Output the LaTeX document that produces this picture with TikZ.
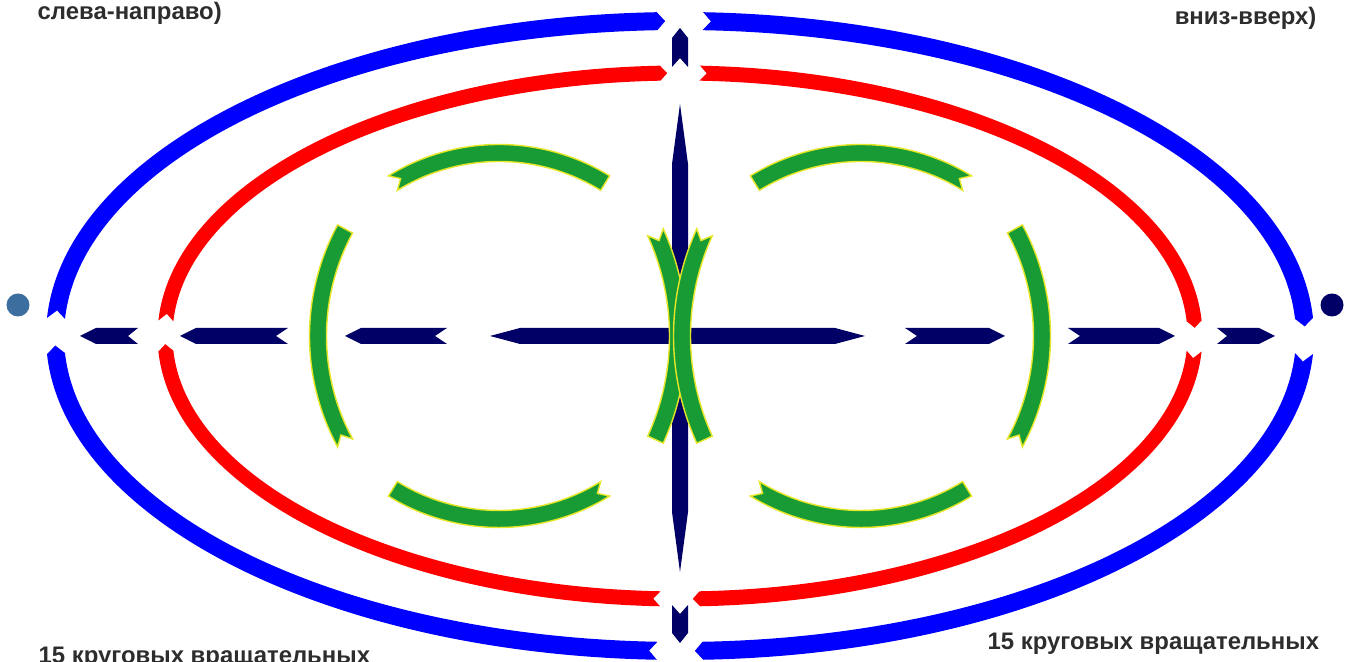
\documentclass[tikz,border=0pt]{standalone}
\usepackage{fontspec}
\setmainfont{Liberation Sans}
\usepackage{tikz}
\usetikzlibrary{calc}

\definecolor{ringblue}{RGB}{0,0,255}
\definecolor{ringred}{RGB}{255,0,0}
\definecolor{axisnavy}{RGB}{0,0,102}
\definecolor{leafgreen}{RGB}{24,154,52}
\definecolor{leafedge}{RGB}{230,230,40}
\definecolor{dotsteel}{RGB}{61,110,160}
\definecolor{captiongray}{RGB}{45,45,45}

% band along an ellipse: style, centre, rx, ry, tail angle, head angle, half width, head depth, notch depth
\newcommand{\chevband}[9]{%
  \pgfmathsetmacro\bsgn{ifthenelse(#6>#5,1,-1)}%
  \pgfmathsetmacro\bdh{\bsgn*#8/sqrt((#3*sin(#6))^2+(#4*cos(#6))^2)*180/pi}%
  \pgfmathsetmacro\bdt{\bsgn*#9/sqrt((#3*sin(#5))^2+(#4*cos(#5))^2)*180/pi}%
  \pgfmathsetmacro\brxo{#3+#7}\pgfmathsetmacro\bryo{#4+#7}%
  \pgfmathsetmacro\brxi{#3-#7}\pgfmathsetmacro\bryi{#4-#7}%
  \pgfmathsetmacro\btip{#6+\bdh}\pgfmathsetmacro\bnotch{#5+\bdt}%
  \fill[#1] ($(#2)+(#5:\brxo cm and \bryo cm)$)
      arc[start angle=#5, end angle=#6, x radius=\brxo, y radius=\bryo]
    -- ($(#2)+(\btip:#3 cm and #4 cm)$)
    -- ($(#2)+(#6:\brxi cm and \bryi cm)$)
      arc[start angle=#6, end angle=#5, x radius=\brxi, y radius=\bryi]
    -- ($(#2)+(\bnotch:#3 cm and #4 cm)$) -- cycle;}

% straight chevron arrow: style, tail, tip, half width, head length, notch depth
\newcommand{\chevarrow}[6]{%
  \fill[#1] ($(#2)!#4cm!90:(#3)$)
    -- ($(#3)!#5cm!(#2)!#4cm!-90:(#2)$)
    -- (#3)
    -- ($(#3)!#5cm!(#2)!#4cm!90:(#2)$)
    -- ($(#2)!#4cm!-90:(#3)$)
    -- ($(#2)!#6cm!(#3)$) -- cycle;}

\begin{document}
\begin{tikzpicture}[
    outerring/.style={fill=ringblue},
    innerring/.style={fill=ringred},
    axisarrow/.style={fill=axisnavy},
    leaf/.style={fill=leafgreen, draw=leafedge, line width=0.4pt},
    caption/.style={font=\fontsize{6.8}{8}\selectfont\bfseries, text=captiongray, inner sep=0pt},
    spot/.style={circle, inner sep=0pt, minimum size=0.23cm},
]
  \useasboundingbox (0,0) rectangle (13.5,6.62);
  \clip (0,0) rectangle (13.5,6.62);
  \coordinate (C) at (6.80,3.26);

  % outer and inner rings
  \chevband{outerring}{C}{6.25}{3.15}{176.8}{92.1}{0.09}{0.08}{0.08}
  \chevband{outerring}{C}{6.25}{3.15}{87.9}{3.2}{0.09}{0.08}{0.08}
  \chevband{outerring}{C}{6.25}{3.15}{-3.2}{-87.9}{0.09}{0.08}{0.08}
  \chevband{outerring}{C}{6.25}{3.15}{-92.1}{-176.8}{0.09}{0.08}{0.08}

  \chevband{innerring}{C}{5.15}{2.63}{176.7}{92.2}{0.075}{0.07}{0.07}
  \chevband{innerring}{C}{5.15}{2.63}{87.8}{3.3}{0.075}{0.07}{0.07}
  \chevband{innerring}{C}{5.15}{2.63}{-3.3}{-87.8}{0.075}{0.07}{0.07}
  \chevband{innerring}{C}{5.15}{2.63}{-92.2}{-176.7}{0.075}{0.07}{0.07}

  % axis arrows
  \chevarrow{axisarrow}{1.38,3.26}{0.80,3.26}{0.08}{0.16}{0.10}
  \chevarrow{axisarrow}{2.88,3.26}{1.80,3.26}{0.08}{0.16}{0.12}
  \chevarrow{axisarrow}{4.47,3.26}{3.45,3.26}{0.08}{0.16}{0.12}
  \chevarrow{axisarrow}{6.80,3.26}{4.90,3.26}{0.08}{0.30}{0}
  \chevarrow{axisarrow}{6.80,3.26}{8.65,3.26}{0.08}{0.30}{0}
  \chevarrow{axisarrow}{9.05,3.26}{10.05,3.26}{0.08}{0.16}{0.12}
  \chevarrow{axisarrow}{10.68,3.26}{11.75,3.26}{0.08}{0.16}{0.12}
  \chevarrow{axisarrow}{12.17,3.26}{12.75,3.26}{0.08}{0.16}{0.10}

  \chevarrow{axisarrow}{6.80,5.95}{6.80,6.34}{0.08}{0.10}{0.09}
  \chevarrow{axisarrow}{6.80,3.26}{6.80,5.58}{0.08}{0.60}{0}
  \chevarrow{axisarrow}{6.80,3.26}{6.80,0.90}{0.08}{0.60}{0}
  \chevarrow{axisarrow}{6.80,0.57}{6.80,0.19}{0.08}{0.10}{0.09}

  % green arcs, left group
  \chevband{leaf}{4.99,3.07}{2.02}{2.02}{121.7}{58.3}{0.085}{0}{0.09}
  \chevband{leaf}{4.99,3.45}{2.02}{2.02}{301.7}{238.3}{0.085}{0}{0.09}
  \chevband{leaf}{5.43,3.26}{2.25}{2.25}{208.4}{151.6}{0.085}{0}{0.09}
  \chevband{leaf}{4.28,3.26}{2.5}{2.5}{24.5}{-24.5}{0.085}{0}{0.09}
  % green arcs, right group
  \chevband{leaf}{8.61,3.07}{2.02}{2.02}{58.3}{121.7}{0.085}{0}{0.09}
  \chevband{leaf}{8.61,3.45}{2.02}{2.02}{238.3}{301.7}{0.085}{0}{0.09}
  \chevband{leaf}{8.17,3.26}{2.25}{2.25}{-28.4}{28.4}{0.085}{0}{0.09}
  \chevband{leaf}{9.32,3.26}{2.5}{2.5}{155.5}{204.5}{0.085}{0}{0.09}

  \node[spot, fill=dotsteel] (leftdot) at (0.18,3.57) {};
  \node[spot, fill=axisnavy] (rightdot) at (13.32,3.57) {};

  \node[caption, anchor=base west] (lefthead) at (0.37,6.42) {слева-направо)};
  \node[caption, anchor=base east] (righthead) at (13.17,6.37) {вниз-вверх)};
  \node[caption, anchor=base west] (leftfoot) at (0.38,-0.02) {15 круговых вращательных};
  \node[caption, anchor=base west] (rightfoot) at (9.87,0.12) {15 круговых вращательных};
\end{tikzpicture}
\end{document}
